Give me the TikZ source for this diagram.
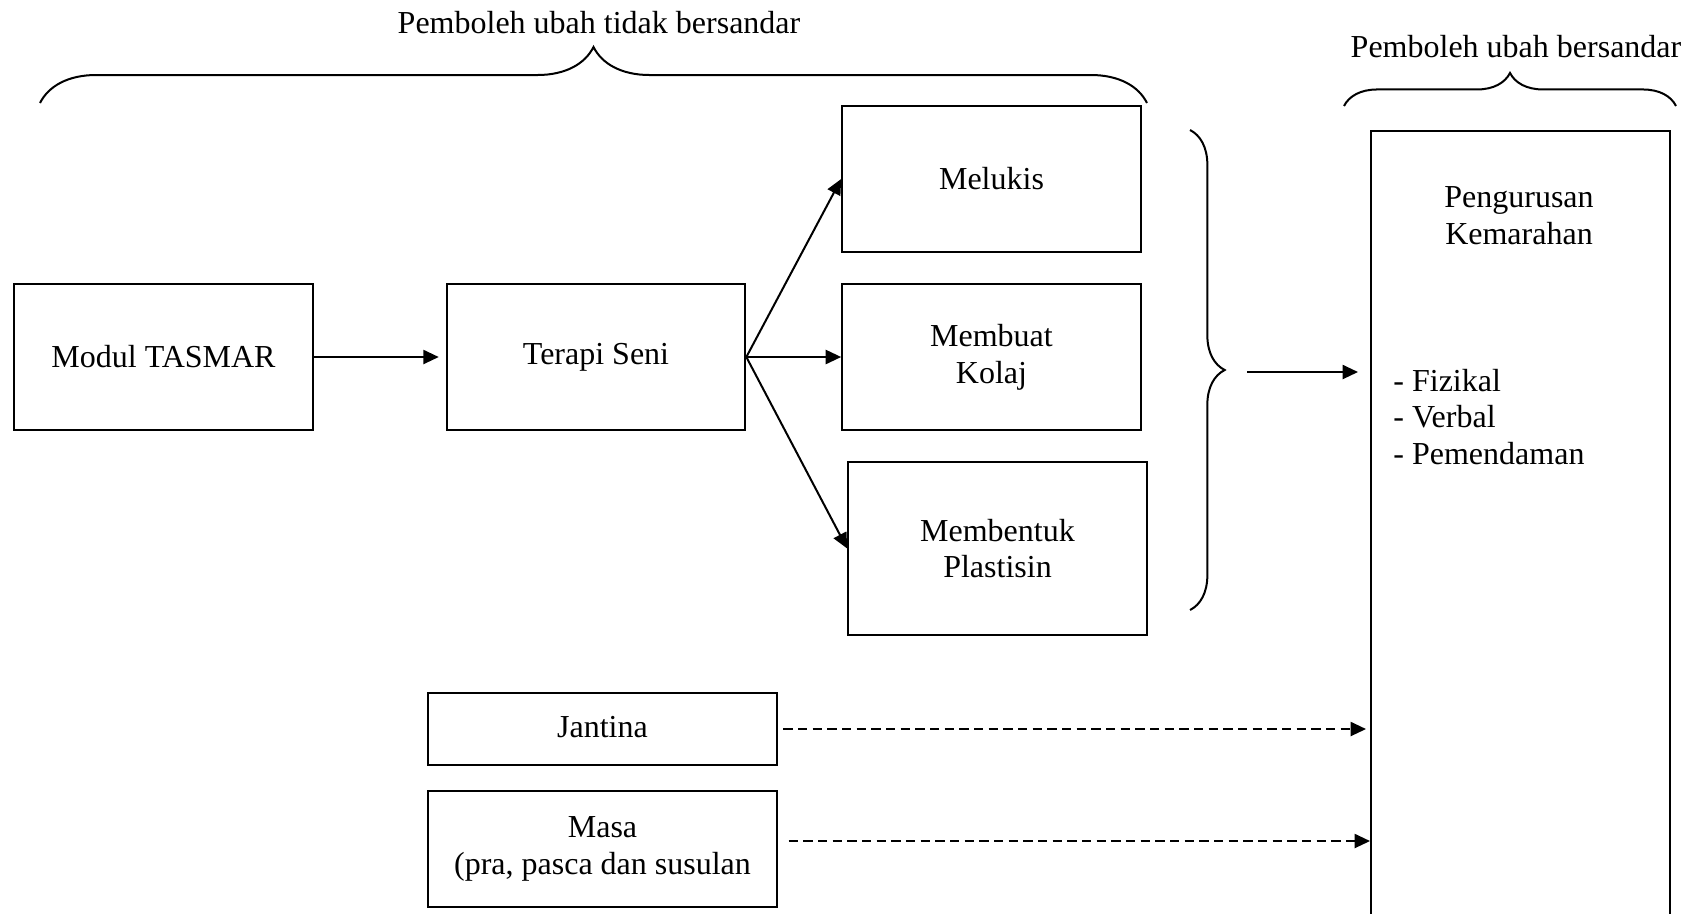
\documentclass[tikz,border=0pt]{standalone}
\usepackage{fontspec}
\setmainfont{Liberation Serif}
\usetikzlibrary{arrows.meta,calc,decorations.pathreplacing}

\begin{document}
\begin{tikzpicture}[x=0.375pt,y=-0.375pt,>={Triangle[length=5.8pt,width=5.3pt]},
  every node/.style={font=\fontsize{12}{13.8}\selectfont},
  box/.style={draw, line width=0.75pt, minimum width=112pt, minimum height=54.75pt, align=center, inner sep=0pt},
  conn/.style={->, line width=0.75pt},
  dconn/.style={->, line width=0.75pt, dash pattern=on 3.5pt off 2pt},
  curly/.style={line width=0.75pt, decorate, decoration={brace, amplitude=#1}}]
\clip (0,0) rectangle (1693,913);
\node (ivlab) at (599,23) {Pemboleh ubah tidak bersandar};
\node (dvlab) at (1516,47) {Pemboleh ubah bersandar};
\draw[curly=21pt] (40,103) -- (1147,103);
\draw[curly=12.4pt] (1344,106) -- (1676,106);
\node[box] (modul) at (163.5,357) {Modul TASMAR};
\node[box] (terapi) at (596,357) {\raisebox{1pt}{Terapi Seni}};
\node[box] (melukis) at (991.5,179) {Melukis};
\node[box] (membuat) at (991.5,357) {Membuat\\Kolaj};
\node[box, minimum height=64.9pt] (membentuk) at (997.5,548.5) {Membentuk\\Plastisin};
\node[box, minimum width=130.9pt, minimum height=27pt] (jantina) at (602.5,729) {\raisebox{1.6pt}{Jantina}};
\node[box, minimum width=130.9pt, minimum height=43.5pt] (masa) at (602.5,849) {\raisebox{1.6pt}{Masa}\\\raisebox{1.6pt}{(pra, pasca dan susulan}};
\node[box, minimum height=300pt, anchor=north west] (dv) at (1370,130) {};
\node[align=center] (dvtitle) at (1519,216) {Pengurusan\\Kemarahan};
\node[anchor=west, align=left] (dvlist) at (1384,417) {- Fizikal\\- Verbal\\- Pemendaman};
\draw[curly=13pt] (1190,130) -- (1190,610);
\coordinate (brtip) at (1247,372);
\draw[conn, shorten >=2.6pt] (modul) -- (terapi);
\foreach \t in {melukis,membuat,membentuk}{\draw[conn] (terapi.east) -- (\t.west);}
\draw[conn, shorten >=4.5pt] (brtip) -- (brtip -| dv.west);
\draw[dconn, shorten <=2pt, shorten >=1.5pt] (jantina.east) -- (jantina.east -| dv.west);
\draw[dconn, shorten <=4pt] ([yshift=3pt]masa.east) -- ([yshift=3pt]masa.east -| dv.west);
\end{tikzpicture}
\end{document}
